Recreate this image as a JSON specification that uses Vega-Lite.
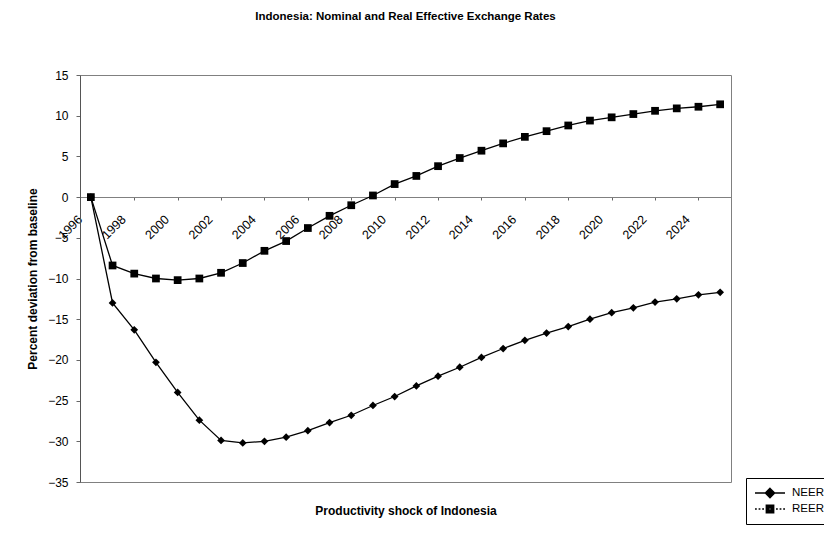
{
  "$schema": "https://vega.github.io/schema/vega-lite/v6.json",
  "width": 651,
  "height": 407,
  "autosize": {"type": "none"},
  "padding": {"left": 80, "top": 75, "right": 93, "bottom": 52},
  "background": "white",
  "config": {
    "font": "Liberation Sans",
    "view": {"stroke": "#808080", "strokeWidth": 1}
  },
  "title": {
    "text": "Indonesia: Nominal and Real Effective Exchange Rates",
    "fontSize": 11.5,
    "fontWeight": "bold",
    "anchor": "middle",
    "offset": 47,
    "color": "black"
  },
  "data": {
    "values": [
      {"year": "1996", "series": "NEER", "value": 0},
      {"year": "1997", "series": "NEER", "value": -13.0},
      {"year": "1998", "series": "NEER", "value": -16.3},
      {"year": "1999", "series": "NEER", "value": -20.3},
      {"year": "2000", "series": "NEER", "value": -24.0},
      {"year": "2001", "series": "NEER", "value": -27.4},
      {"year": "2002", "series": "NEER", "value": -29.9},
      {"year": "2003", "series": "NEER", "value": -30.2},
      {"year": "2004", "series": "NEER", "value": -30.0},
      {"year": "2005", "series": "NEER", "value": -29.5},
      {"year": "2006", "series": "NEER", "value": -28.7},
      {"year": "2007", "series": "NEER", "value": -27.7},
      {"year": "2008", "series": "NEER", "value": -26.8},
      {"year": "2009", "series": "NEER", "value": -25.6},
      {"year": "2010", "series": "NEER", "value": -24.5},
      {"year": "2011", "series": "NEER", "value": -23.2},
      {"year": "2012", "series": "NEER", "value": -22.0},
      {"year": "2013", "series": "NEER", "value": -20.9},
      {"year": "2014", "series": "NEER", "value": -19.7},
      {"year": "2015", "series": "NEER", "value": -18.6},
      {"year": "2016", "series": "NEER", "value": -17.6},
      {"year": "2017", "series": "NEER", "value": -16.7},
      {"year": "2018", "series": "NEER", "value": -15.9},
      {"year": "2019", "series": "NEER", "value": -15.0},
      {"year": "2020", "series": "NEER", "value": -14.2},
      {"year": "2021", "series": "NEER", "value": -13.6},
      {"year": "2022", "series": "NEER", "value": -12.9},
      {"year": "2023", "series": "NEER", "value": -12.5},
      {"year": "2024", "series": "NEER", "value": -12.0},
      {"year": "2025", "series": "NEER", "value": -11.7},
      {"year": "1996", "series": "REER", "value": 0},
      {"year": "1997", "series": "REER", "value": -8.4},
      {"year": "1998", "series": "REER", "value": -9.4},
      {"year": "1999", "series": "REER", "value": -10.0},
      {"year": "2000", "series": "REER", "value": -10.2},
      {"year": "2001", "series": "REER", "value": -10.0},
      {"year": "2002", "series": "REER", "value": -9.3},
      {"year": "2003", "series": "REER", "value": -8.1},
      {"year": "2004", "series": "REER", "value": -6.6},
      {"year": "2005", "series": "REER", "value": -5.4},
      {"year": "2006", "series": "REER", "value": -3.8},
      {"year": "2007", "series": "REER", "value": -2.3},
      {"year": "2008", "series": "REER", "value": -1.0},
      {"year": "2009", "series": "REER", "value": 0.2},
      {"year": "2010", "series": "REER", "value": 1.6},
      {"year": "2011", "series": "REER", "value": 2.6},
      {"year": "2012", "series": "REER", "value": 3.8},
      {"year": "2013", "series": "REER", "value": 4.8},
      {"year": "2014", "series": "REER", "value": 5.7},
      {"year": "2015", "series": "REER", "value": 6.6},
      {"year": "2016", "series": "REER", "value": 7.4},
      {"year": "2017", "series": "REER", "value": 8.1},
      {"year": "2018", "series": "REER", "value": 8.8},
      {"year": "2019", "series": "REER", "value": 9.4},
      {"year": "2020", "series": "REER", "value": 9.8},
      {"year": "2021", "series": "REER", "value": 10.2},
      {"year": "2022", "series": "REER", "value": 10.6},
      {"year": "2023", "series": "REER", "value": 10.9},
      {"year": "2024", "series": "REER", "value": 11.1},
      {"year": "2025", "series": "REER", "value": 11.4}
    ]
  },
  "encoding": {
    "x": {
      "field": "year",
      "type": "ordinal",
      "scale": {"type": "point", "padding": 0.5},
      "axis": {
        "title": "Productivity shock of Indonesia",
        "values": ["1996","1998","2000","2002","2004","2006","2008","2010","2012","2014","2016","2018","2020","2022","2024"],
        "offset": -285,
        "labelAngle": -45,
        "labelAlign": "right",
        "labelBaseline": "middle",
        "labelFontSize": 12.5,
        "labelColor": "black",
        "labelPadding": 17,
        "labelOffset": -11,
        "tickSize": 3,
        "tickColor": "#666",
        "domainColor": "#808080",
        "titleFontSize": 12,
        "titleFontWeight": "bold",
        "titleColor": "black",
        "titleY": 313,
        "titleBaseline": "middle"
      }
    },
    "y": {
      "field": "value",
      "type": "quantitative",
      "scale": {"domain": [-35, 15], "nice": false, "zero": false},
      "axis": {
        "title": "Percent deviation from baseline",
        "values": [-35,-30,-25,-20,-15,-10,-5,0,5,10,15],
        "grid": false,
        "labelFontSize": 12,
        "labelColor": "black",
        "labelPadding": 8,
        "tickSize": 4,
        "tickColor": "#666",
        "domainColor": "#555",
        "titleFontSize": 12,
        "titleFontWeight": "bold",
        "titleColor": "black",
        "titlePadding": 8
      }
    }
  },
  "layer": [
    {
      "mark": {"type": "line", "color": "black", "strokeWidth": 1.3},
      "encoding": {"detail": {"field": "series"}}
    },
    {
      "mark": {"type": "point", "filled": true, "color": "black", "opacity": 1, "size": 60},
      "encoding": {
        "shape": {
          "field": "series",
          "type": "nominal",
          "scale": {"domain": ["NEER", "REER"], "range": ["diamond", "square"]},
          "legend": null
        }
      }
    },
    {
      "mark": {"type": "point", "filled": false, "color": "black", "opacity": 0, "size": 144},
      "encoding": {
        "shape": {
          "field": "series",
          "type": "nominal",
          "scale": {
            "domain": ["NEER", "REER"],
            "range": [
              "M-2.5,0L2.5,0M0,-0.75L0.75,0L0,0.75L-0.75,0ZM0,-0.5L0.5,0L0,0.5L-0.5,0ZM0,-0.25L0.25,0L0,0.25L-0.25,0Z",
              "M-2.5,0L-2.2,0M-1.9,0L-1.6,0M-1.3,0L-1.0,0M-0.7,0L-0.4,0M0.4,0L0.7,0M1.0,0L1.3,0M1.6,0L1.9,0M2.2,0L2.5,0M-0.6,-0.6L0.6,-0.6L0.6,0.6L-0.6,0.6ZM-0.4,-0.4L0.4,-0.4L0.4,0.4L-0.4,0.4ZM-0.2,-0.2L0.2,-0.2L0.2,0.2L-0.2,0.2Z"
            ]
          },
          "legend": {
            "title": null,
            "orient": "none",
            "legendX": 666,
            "legendY": 403,
            "strokeColor": "black",
            "padding": 8,
            "fillColor": "white",
            "labelFontSize": 11.5,
            "labelColor": "black",
            "symbolSize": 144,
            "symbolOpacity": 1,
            "symbolStrokeColor": "black",
            "symbolStrokeWidth": 1.6,
            "symbolOffset": 9,
            "labelOffset": 15,
            "rowPadding": 1
          }
        }
      }
    }
  ],
  "resolve": {"scale": {"shape": "independent"}, "legend": {"shape": "independent"}}
}
